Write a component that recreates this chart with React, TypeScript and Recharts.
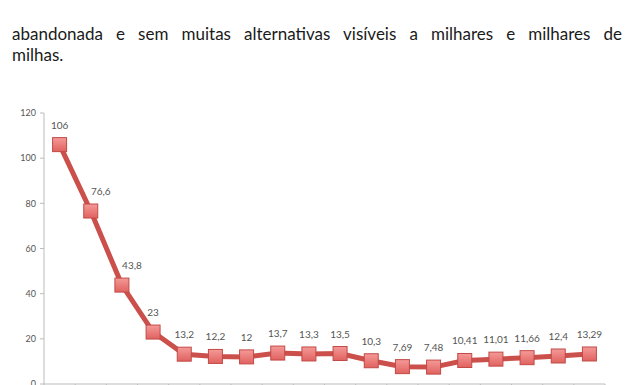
import { LineChart, Line, XAxis, YAxis, LabelList } from "recharts"

// Série
const positions = [0, 1, 2, 3, 4, 5, 6, 7, 8, 9, 10, 11, 12, 13, 14, 15, 16, 17]
const values = [106, 76.6, 43.8, 23, 13.2, 12.2, 12, 13.7, 13.3, 13.5, 10.3, 7.69, 7.48, 10.41, 11.01, 11.66, 12.4, 13.29]
const yTicks = [0, 20, 40, 60, 80, 100, 120]
const xTicks = [0, 1, 2, 3, 4, 5, 6, 7, 8, 9, 10, 11, 12, 13, 14, 15, 16, 17, 18]

const data = positions.map((p, i) => ({ x: p + 0.5, value: values[i] }))

const fmt = (v: number) => String(v).replace(".", ",")

function SquareDot(props: any) {
  const { cx, cy } = props
  if (cx == null || cy == null) return null
  return (
    <rect
      x={cx - 7}
      y={cy - 7}
      width={14}
      height={14}
      fill="url(#dotFill)"
      stroke="#c24a46"
      strokeWidth={1}
    />
  )
}

function ValueLabel(props: any) {
  const { x, y, value, index } = props
  // two early labels sit slightly to the right in the original
  const dx = index === 1 || index === 2 ? 10 : 0
  return (
    <text
      x={x + dx}
      y={y - 20}
      textAnchor="middle"
      dominantBaseline="central"
      fontSize={10}
      fill="#555"
      fontFamily="Lato, 'Open Sans', sans-serif"
    >
      {fmt(value)}
    </text>
  )
}

export default function App() {
  return (
    <div style={{ position: "absolute", left: 0, top: 0, width: 640, height: 385, background: "#fff", overflow: "hidden" }}>
      <div
        style={{
          position: "absolute",
          left: 12,
          top: 23,
          width: 610,
          fontFamily: "Lato, 'Open Sans', sans-serif",
          fontSize: 17,
          lineHeight: "21px",
          color: "#1a1a1a",
        }}
      >
        <div style={{ textAlign: "justify", textAlignLast: "justify" }}>
          abandonada e sem muitas alternativas visíveis a milhares e milhares de
        </div>
        <div>milhas.</div>
      </div>
      <div style={{ position: "absolute", left: 0, top: 100 }}>
        <LineChart width={640} height={300} data={data} margin={{ top: 13, right: 35, bottom: 0, left: 0 }}>
          <defs>
            <linearGradient id="dotFill" x1="0" y1="0" x2="0" y2="1">
              <stop offset="0%" stopColor="#f49a98" />
              <stop offset="100%" stopColor="#e0625f" />
            </linearGradient>
          </defs>
          <XAxis
            type="number"
            dataKey="x"
            domain={[0, 18]}
            ticks={xTicks}
            tickFormatter={() => ""}
            height={16}
            axisLine={{ stroke: "#bbb" }}
            tickLine={{ stroke: "#bbb" }}
            tickSize={5}
          />
          <YAxis
            type="number"
            domain={[0, 120]}
            ticks={yTicks}
            width={44}
            axisLine={{ stroke: "#bbb" }}
            tickLine={{ stroke: "#bbb" }}
            tickSize={4}
            tickMargin={4}
            tick={{ fontSize: 9, fill: "#555", fontFamily: "Lato, 'Open Sans', sans-serif" }}
          />
          <Line
            type="linear"
            dataKey="value"
            stroke="#cb4f4a"
            strokeWidth={5}
            dot={<SquareDot />}
            activeDot={false}
            isAnimationActive={false}
          >
            <LabelList dataKey="value" content={<ValueLabel />} />
          </Line>
        </LineChart>
      </div>
    </div>
  )
}
